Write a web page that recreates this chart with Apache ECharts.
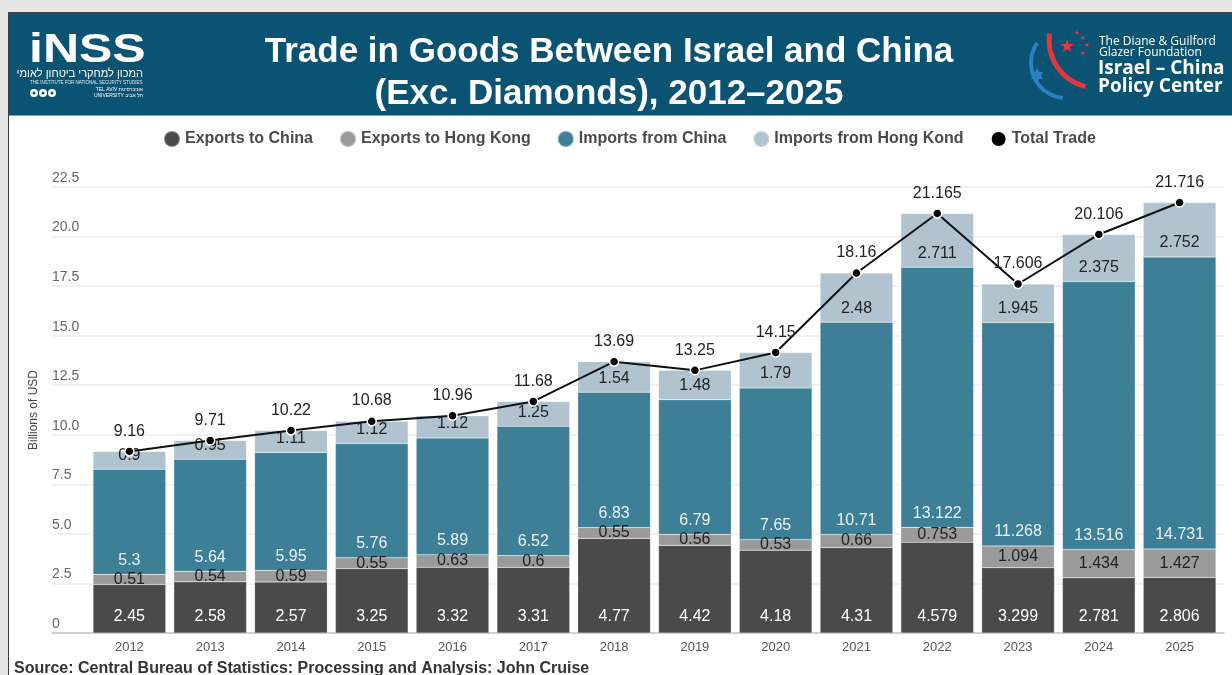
<!DOCTYPE html>
<html>
<head>
<meta charset="utf-8">
<script src="https://cdn.jsdelivr.net/npm/echarts@6/dist/echarts.min.js"></script>
<style>
html,body{margin:0;padding:0;background:#e6e6e6;overflow:hidden;}
#main{position:absolute;left:8px;top:12px;width:1223px;height:662px;border-left:1px solid #3d3d3d;border-top:1px solid #3d3d3d;background:#fff;}
</style>
</head>
<body>
<div id="main"></div>
<script>
var years = ['2012','2013','2014','2015','2016','2017','2018','2019','2020','2021','2022','2023','2024','2025'];
var exportsChina = [2.45, 2.58, 2.57, 3.25, 3.32, 3.31, 4.77, 4.42, 4.18, 4.31, 4.579, 3.299, 2.781, 2.806];
var exportsHK = [0.51, 0.54, 0.59, 0.55, 0.63, 0.6, 0.55, 0.56, 0.53, 0.66, 0.753, 1.094, 1.434, 1.427];
var importsChina = [5.3, 5.64, 5.95, 5.76, 5.89, 6.52, 6.83, 6.79, 7.65, 10.71, 13.122, 11.268, 13.516, 14.731];
var importsHK = [0.9, 0.95, 1.11, 1.12, 1.12, 1.25, 1.54, 1.48, 1.79, 2.48, 2.711, 1.945, 2.375, 2.752];
var totalTrade = [9.16, 9.71, 10.22, 10.68, 10.96, 11.68, 13.69, 13.25, 14.15, 18.16, 21.165, 17.606, 20.106, 21.716];

var FONT = '"Liberation Sans", Arial, sans-serif';
var myChart = echarts.init(document.getElementById('main'));

function barLabel(pos, color, dist) {
  return {show: true, position: pos, distance: dist, color: color, fontSize: 16, fontFamily: FONT};
}

var option = {
  animation: false,
  textStyle: {fontFamily: FONT},
  legend: {
    left: 149,
    top: 112,
    icon: 'circle',
    itemWidth: 16,
    itemHeight: 16,
    itemGap: 26,
    textStyle: {fontSize: 16, fontWeight: 'bold', color: '#4a4a4a', fontFamily: FONT},
    data: ['Exports to China', 'Exports to Hong Kong', 'Imports from China', 'Imports from Hong Kond', 'Total Trade']
  },
  grid: [
    {left: 43, right: 8, top: 174, bottom: 42},
    {left: 80, right: 12, top: 174, bottom: 42}
  ],
  xAxis: [
    {
      gridIndex: 0, type: 'value', min: 0, max: 1,
      axisLine: {show: true, lineStyle: {color: '#c4c4c4', width: 1.5}},
      axisTick: {show: false}, axisLabel: {show: false}, splitLine: {show: false}
    },
    {
      gridIndex: 1, type: 'category', data: years,
      axisLine: {show: false}, axisTick: {show: false},
      axisLabel: {fontSize: 13, color: '#555', margin: 8}
    }
  ],
  yAxis: [
    {
      gridIndex: 0, type: 'value', min: 0, max: 22.5, interval: 2.5,
      name: 'Billions of USD', nameLocation: 'middle', nameGap: 12,
      nameTextStyle: {fontSize: 12, color: '#444'},
      axisLine: {show: false}, axisTick: {show: false},
      splitLine: {lineStyle: {color: '#ececec', width: 1.5}},
      axisLabel: {
        inside: true, margin: 0, verticalAlign: 'bottom', padding: [0, 0, 2, 0],
        fontSize: 14, color: '#666',
        formatter: function (v) { return v === 0 ? '0' : v.toFixed(1); }
      }
    },
    {gridIndex: 1, type: 'value', min: 0, max: 22.5, interval: 2.5, show: false}
  ],
  series: [
    {
      name: 'Exports to China', type: 'bar', stack: 'trade', xAxisIndex: 1, yAxisIndex: 1,
      barCategoryGap: '10%', data: exportsChina,
      itemStyle: {color: '#4a4a4a', borderColor: 'rgba(255,255,255,0.35)', borderWidth: 0.5},
      label: barLabel('insideBottom', '#ffffff', 8)
    },
    {
      name: 'Exports to Hong Kong', type: 'bar', stack: 'trade', xAxisIndex: 1, yAxisIndex: 1,
      data: exportsHK,
      itemStyle: {color: '#9a9a9a', borderColor: 'rgba(255,255,255,0.35)', borderWidth: 0.5},
      label: barLabel('inside', '#222222', 0)
    },
    {
      name: 'Imports from China', type: 'bar', stack: 'trade', xAxisIndex: 1, yAxisIndex: 1,
      data: importsChina,
      itemStyle: {color: '#3d7f97', borderColor: 'rgba(255,255,255,0.35)', borderWidth: 0.5},
      label: barLabel('insideBottom', '#eaf2f6', 6)
    },
    {
      name: 'Imports from Hong Kond', type: 'bar', stack: 'trade', xAxisIndex: 1, yAxisIndex: 1,
      data: importsHK,
      itemStyle: {color: '#b0c3cf', borderColor: 'rgba(255,255,255,0.35)', borderWidth: 0.5},
      label: barLabel('insideBottom', '#222222', 6)
    },
    {
      name: 'Total Trade', type: 'line', xAxisIndex: 1, yAxisIndex: 1, z: 10,
      data: totalTrade,
      symbol: 'circle', symbolSize: 9,
      lineStyle: {color: '#111', width: 2},
      itemStyle: {color: '#000', borderColor: '#fff', borderWidth: 1.5},
      label: {show: true, position: 'top', distance: 7, fontSize: 16, color: '#222', fontFamily: FONT}
    }
  ],
  graphic: [
    {type: 'rect', left: 0, top: 0, shape: {width: 1223, height: 102}, style: {fill: '#0b5372'}, z: -1},
    {type: 'rect', left: 0, top: 102, shape: {width: 1223, height: 1}, style: {fill: '#7fa3b3'}, z: -1},
    // title
    {type: 'text', x: 600, y: 39, style: {text: 'Trade in Goods Between Israel and China', font: 'bold 35px ' + FONT, fill: '#fff', align: 'center', verticalAlign: 'middle'}},
    {type: 'text', x: 600, y: 81, style: {text: '(Exc. Diamonds), 2012\u20132025', font: 'bold 35px ' + FONT, fill: '#fff', align: 'center', verticalAlign: 'middle'}},
    // INSS logo
    {type: 'text', x: 20, y: 18, scaleX: 1.25, style: {text: 'iNSS', font: 'bold 40px ' + FONT, fill: '#fff'}},
    {type: 'text', x: 134, y: 61, style: {text: '\u05d4\u05de\u05db\u05d5\u05df \u05dc\u05de\u05d7\u05e7\u05e8\u05d9 \u05d1\u05d9\u05d8\u05d7\u05d5\u05df \u05dc\u05d0\u05d5\u05de\u05d9', font: '11px ' + FONT, fill: '#fff', align: 'right', verticalAlign: 'middle'}},
    {type: 'text', x: 21, y: 70, style: {text: 'THE INSTITUTE FOR NATIONAL SECURITY STUDIES', font: '4.5px ' + FONT, fill: '#dfe9ee', verticalAlign: 'middle'}},
    {type: 'circle', shape: {cx: 25, cy: 80, r: 4}, style: {fill: '#fff'}},
    {type: 'circle', shape: {cx: 34, cy: 80, r: 4}, style: {fill: '#fff'}},
    {type: 'circle', shape: {cx: 43, cy: 80, r: 4}, style: {fill: '#fff'}},
    {type: 'circle', shape: {cx: 25, cy: 80, r: 1.5}, style: {fill: '#0b5372'}},
    {type: 'circle', shape: {cx: 34, cy: 80, r: 1.5}, style: {fill: '#0b5372'}},
    {type: 'circle', shape: {cx: 43, cy: 80, r: 1.5}, style: {fill: '#0b5372'}},
    {type: 'text', x: 134, y: 77, style: {text: 'TEL AVIV \u05d0\u05d5\u05e0\u05d9\u05d1\u05e8\u05e1\u05d9\u05d8\u05ea', font: '5px ' + FONT, fill: '#fff', align: 'right', verticalAlign: 'middle'}},
    {type: 'text', x: 134, y: 83, style: {text: 'UNIVERSITY \u05ea\u05dc \u05d0\u05d1\u05d9\u05d1', font: '5px ' + FONT, fill: '#fff', align: 'right', verticalAlign: 'middle'}},
    // Israel-China Policy Center logo
    {type: 'arc', shape: {cx: 1057, cy: 50, r: 35, startAngle: 95 * Math.PI / 180, endAngle: 215 * Math.PI / 180}, style: {stroke: '#2d7fc4', lineWidth: 4, fill: null}},
    {type: 'arc', shape: {cx: 1088, cy: 27, r: 48, startAngle: 104 * Math.PI / 180, endAngle: 188 * Math.PI / 180}, style: {stroke: '#e0383e', lineWidth: 5, fill: null}},
    {type: 'text', x: 1058, y: 34, style: {text: '\u2605', font: '18px "DejaVu Sans"', fill: '#e0383e', align: 'center', verticalAlign: 'middle'}},
    {type: 'text', x: 1068, y: 20, style: {text: '\u2605', font: '7px "DejaVu Sans"', fill: '#e0383e', align: 'center', verticalAlign: 'middle'}},
    {type: 'text', x: 1074, y: 25, style: {text: '\u2605', font: '7px "DejaVu Sans"', fill: '#e0383e', align: 'center', verticalAlign: 'middle'}},
    {type: 'text', x: 1078, y: 32, style: {text: '\u2605', font: '7px "DejaVu Sans"', fill: '#e0383e', align: 'center', verticalAlign: 'middle'}},
    {type: 'text', x: 1074, y: 40, style: {text: '\u2605', font: '7px "DejaVu Sans"', fill: '#e0383e', align: 'center', verticalAlign: 'middle'}},
    {type: 'polygon', shape: {points: [[1028, 55], [1034, 66], [1022, 66]]}, style: {fill: '#2d7fc4'}},
    {type: 'polygon', shape: {points: [[1028, 70], [1034, 59], [1022, 59]]}, style: {fill: '#2d7fc4'}},
    {type: 'text', x: 1090, y: 29, style: {text: 'The Diane & Guilford', font: '12px "Open Sans"', fill: '#fff', verticalAlign: 'middle'}},
    {type: 'text', x: 1090, y: 40, style: {text: 'Glazer Foundation', font: '12px "Open Sans"', fill: '#fff', verticalAlign: 'middle'}},
    {type: 'text', x: 1089, y: 56, style: {text: 'Israel \u2013 China', font: 'bold 19px "Open Sans"', fill: '#fff', verticalAlign: 'middle'}},
    {type: 'text', x: 1089, y: 74, style: {text: 'Policy Center', font: 'bold 19px "Open Sans"', fill: '#fff', verticalAlign: 'middle'}},
    // source
    {type: 'text', x: 5, y: 656, style: {text: 'Source: Central Bureau of Statistics: Processing and Analysis: John Cruise', font: 'bold 16px ' + FONT, fill: '#333', verticalAlign: 'middle'}}
  ]
};

myChart.setOption(option);
</script>
</body>
</html>
